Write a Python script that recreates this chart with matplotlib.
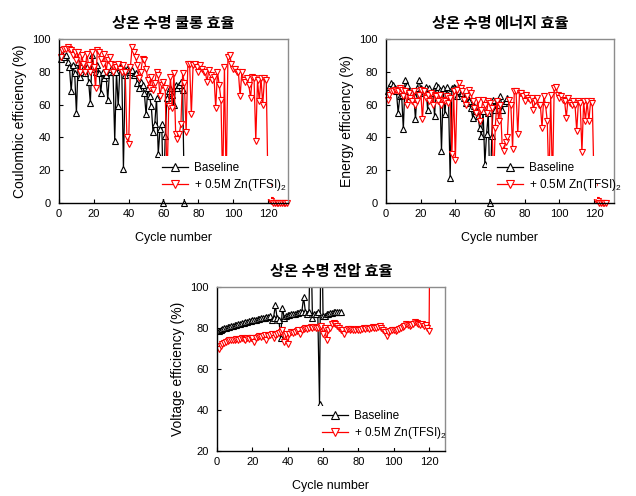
import numpy as np
import matplotlib
matplotlib.use("Agg")
import matplotlib.pyplot as plt
from matplotlib.patches import Rectangle

plt.rcParams['font.family'] = ['Liberation Sans', 'Noto Sans CJK KR', 'DejaVu Sans']
plt.rcParams['mathtext.fontset'] = 'custom'
plt.rcParams['mathtext.rm'] = 'Liberation Sans'
plt.rcParams['mathtext.it'] = 'Liberation Sans'

# ---------------- data ----------------
titles = ["상온 수명 쿨롱 효율", "상온 수명 에너지 효율", "상온 수명 전압 효율"]
ylabels = ["Coulombic efficiency (%)", "Energy efficiency (%)", "Voltage efficiency (%)"]
xlabel = "Cycle number"
series_names = ["Baseline", "+ 0.5M Zn(TFSI)$_2$"]

base_ce = [88, 91, 89, 90, 86, 83, 68, 84, 79, 55,
           86, 77, 80, 82, 79, 83, 74, 61, 90, 82,
           80, 84, 79, 67, 80, 76, 78, 63, 80, 82,
           80, 38, 80, 59, 83, 84, 21, 78, 82, 81,
           80, 81, 78, 79, 73, 70, 74, 72, 67, 54,
           70, 65, 59, 43, 48, 64, 30, 45, 48, 0,
           41, 64, 68, 70, 66, 60, 72, 70, 72, 74,
           69, 0]

zn_ce = [89, 93, 94, 94, 95, 94, 93, 90, 92, 87,
         92, 80, 90, 85, 80, 91, 84, 80, 92, 83,
         70, 93, 92, 88, 85, 91, 80, 87, 89, 85,
         80, 84, 83, 85, 82, 80, 84, 80, 40, 36,
         83, 95, 92, 89, 84, 76, 80, 88, 87, 82,
         75, 70, 77, 69, 73, 80, 78, 65, 72, 74,
         70, 10, 59, 77, 58, 79, 42, 39, 42, 48,
         79, 73, 43, 85, 85, 54, 84, 85, 83, 80,
         84, 82, 80, 80, 74, 81, 78, 75, 77, 58,
         80, 72, 63, 10, 83, 10, 89, 90, 85, 82,
         82, 80, 80, 65, 80, 75, 74, 76, 72, 64,
         77, 76, 38, 75, 62, 76, 60, 76, 75, 10,
         2, 1, 0, 0, 0, 0, 0, 0, 0, 0, 0]

base_ee = [68, 71, 73, 72, 70, 68, 55, 65, 66, 45,
           75, 72, 68, 65, 67, 66, 51, 70, 75, 70,
           68, 67, 71, 57, 70, 67, 68, 53, 72, 71,
           69, 32, 70, 54, 71, 66, 15, 70, 71, 70,
           65, 68, 67, 67, 64, 61, 65, 62, 58, 52,
           59, 56, 53, 46, 41, 56, 24, 42, 55, 0,
           41, 63, 57, 61, 60, 65, 57, 61, 62, 64]

zn_ee = [63, 66, 68, 68, 69, 69, 68, 70, 69, 65,
         68, 60, 67, 64, 62, 68, 60, 62, 66, 69,
         51, 68, 64, 66, 62, 67, 60, 66, 65, 62,
         66, 60, 63, 62, 65, 61, 64, 30, 68, 26,
         69, 73, 70, 68, 63, 60, 65, 69, 67, 62,
         58, 55, 63, 50, 57, 63, 60, 55, 62, 61,
         58, 10, 46, 62, 50, 60, 35, 32, 37, 40,
         63, 60, 33, 68, 68, 42, 67, 67, 65, 62,
         66, 64, 63, 64, 57, 62, 64, 60, 60, 46,
         65, 60, 50, 10, 66, 10, 70, 71, 66, 64,
         65, 63, 62, 52, 64, 61, 60, 62, 60, 44,
         62, 61, 31, 62, 50, 62, 50, 62, 61, 10,
         2, 1, 0, 0, 0, 0, 0]

base_ve = [78.5, 79, 79.5, 80, 80, 80.5, 80.5, 81, 81, 81.5,
           81.5, 82, 82, 82.5, 82.5, 83, 83, 83.5, 83.5, 84,
           84, 84, 84.5, 84.5, 85, 85, 85, 85.5, 85.5, 86,
           84, 85, 91, 85, 84, 75, 90, 85, 86, 86.5,
           86.5, 87, 87, 87, 87.5, 87.5, 88, 88, 95, 88,
           87, 88, 130, 85, 87, 87, 88, 43, 150, 86,
           86, 87, 87, 87.5, 87.5, 88, 88, 88, 88, 88]

zn_ve = [70, 71, 72, 72.5, 73, 73.5, 74, 74, 74, 74,
         74.5, 74, 74.5, 75, 74.5, 74, 75, 74.5, 75, 75,
         73, 75, 75.5, 76, 75.5, 76, 76.5, 74, 76, 76.5,
         77, 75, 76.5, 77, 77.5, 78, 79, 73, 77, 72,
         77, 78, 77.5, 78, 78.5, 79, 77, 79, 79.5, 80,
         79.5, 80, 80.5, 80, 80.5, 80, 80, 80.5, 81, 77,
         80, 74, 79, 80, 82, 82.5, 82, 81, 80, 79,
         79, 77, 79, 79.5, 79, 79.5, 79, 79, 79.5, 79,
         79, 79.5, 80, 79.5, 80, 79.5, 80, 80.5, 80, 80,
         80.5, 81, 80, 79, 78, 76, 78, 78.5, 79, 79,
         78.5, 79, 79.5, 80, 80.5, 81, 82, 81.5, 81, 81.5,
         82, 83, 82.5, 82, 81.5, 82, 81, 81.5, 80, 78.5,
         200]

panels = [
    dict(base=base_ce, zn=zn_ce, ylim=(0, 100), yticks=[0, 20, 40, 60, 80, 100], xmax=131.5,
         rect=(0.44, 0.025, 0.485, 0.26), clip=False, leg=(0.415, 0.008)),
    dict(base=base_ee, zn=zn_ee, ylim=(0, 100), yticks=[0, 20, 40, 60, 80, 100], xmax=131.5,
         rect=(0.445, 0.025, 0.48, 0.26), clip=False, leg=(0.45, 0.008)),
    dict(base=base_ve, zn=zn_ve, ylim=(20, 100), yticks=[20, 40, 60, 80, 100], xmax=129,
         rect=(0.43, 0.02, 0.5, 0.255), clip=True, leg=(0.425, 0.008)),
]

axes_pos = [
    [59 / 636, (496 - 203) / 496, 229 / 636, 164 / 496],
    [386 / 636, (496 - 203) / 496, 228 / 636, 164 / 496],
    [217 / 636, (496 - 451) / 496, 228 / 636, 164 / 496],
]

fig = plt.figure(figsize=(6.36, 4.96), dpi=100)

for i, p in enumerate(panels):
    ax = fig.add_axes(axes_pos[i])
    xb = np.arange(1, len(p['base']) + 1)
    xz = np.arange(1, len(p['zn']) + 1)
    ax.plot(xb, p['base'], color='black', lw=0.9, marker='^', ms=4.5, mfc='white',
            mec='black', mew=0.8, clip_on=p['clip'], label=series_names[0], zorder=2)
    ax.plot(xz, p['zn'], color='#ff0000', lw=0.9, marker='v', ms=4.5, mfc='white',
            mec='#ff0000', mew=0.8, clip_on=p['clip'], label=series_names[1], zorder=2.1)
    ax.set_xlim(0, p['xmax'])
    ax.set_ylim(*p['ylim'])
    ax.set_xticks([0, 20, 40, 60, 80, 100, 120])
    ax.set_yticks(p['yticks'])
    ax.tick_params(direction='in', length=3, width=0.8, labelsize=8, colors='#000000')
    ax.tick_params(axis='y', pad=6)
    ax.tick_params(axis='x', pad=4)
    for s in ['left', 'bottom']:
        ax.spines[s].set_color('black')
        ax.spines[s].set_linewidth(1.0)
    for s in ['top', 'right']:
        ax.spines[s].set_color('#8c8c8c')
        ax.spines[s].set_linewidth(1.0)
    ax.set_xlabel(xlabel, fontsize=9, labelpad=10)
    ax.set_ylabel(ylabels[i], fontsize=10, labelpad=4)
    ax.set_title(titles[i], fontsize=11, fontweight='bold', family=['Noto Sans CJK KR'], pad=8)
    r = p['rect']
    ax.add_patch(Rectangle((r[0], r[1]), r[2], r[3], transform=ax.transAxes,
                           facecolor='white', edgecolor='none', zorder=3, clip_on=False))
    leg = ax.legend(loc='lower left', bbox_to_anchor=p['leg'], frameon=False, fontsize=8.5,
                    handlelength=2.2, handletextpad=0.5, labelspacing=0.25, markerscale=1.3,
                    borderpad=0.2)
    leg.set_zorder(5)

fig.savefig("out.png", dpi=100)
